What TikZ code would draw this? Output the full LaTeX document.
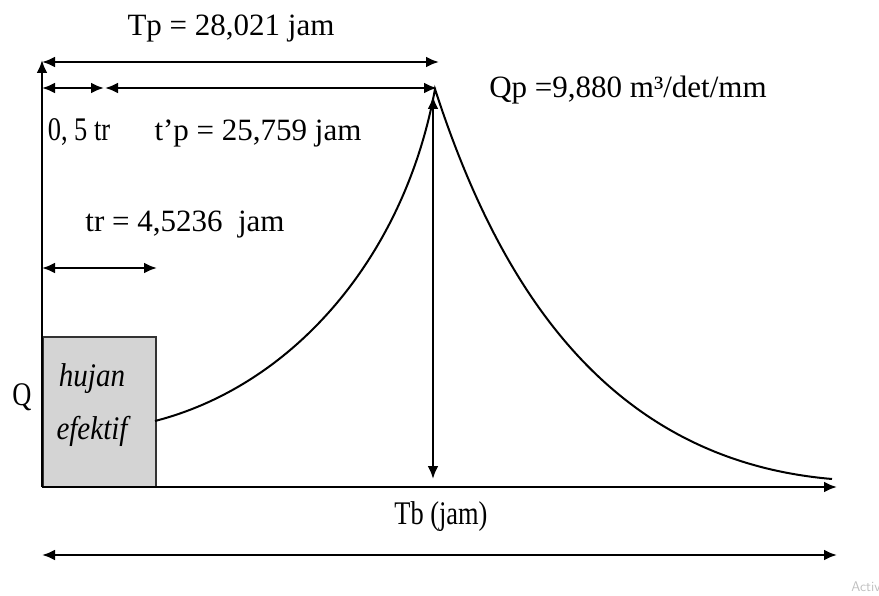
\documentclass[tikz,border=0pt]{standalone}
\usepackage{fontspec}
\setmainfont{Liberation Serif}
\newfontfamily\condfont[FakeStretch=0.8]{Liberation Serif}
\newfontfamily\icondfont[FakeStretch=0.88]{Liberation Serif Italic}
\usetikzlibrary{arrows.meta}
\begin{document}
\begin{tikzpicture}[x=1pt,y=-1pt,
  dim/.style={line width=2.8pt,{Latex[length=13pt,width=11pt]}-{Latex[length=13pt,width=11pt]}},
  axis/.style={line width=2.4pt,-{Latex[length=13pt,width=11pt]}},
  lbl/.style={inner sep=0pt,font=\fontsize{31}{34}\selectfont},
  clbl/.style={inner sep=0pt,font=\fontsize{33}{36}\selectfont\condfont},
  ilbl/.style={inner sep=0pt,font=\fontsize{33}{36}\selectfont\icondfont}]
\useasboundingbox (0,0) rectangle (879,596);
% key points
\coordinate (O) at (42,487);
\coordinate (Ytop) at (42,60);
\coordinate (Xend) at (837,487);
\coordinate (TpL) at (42,62);
\coordinate (TpR) at (439,62);
\coordinate (hL) at (42,88);
\coordinate (hR) at (104,88);
\coordinate (tpL) at (105,88);
\coordinate (tpR) at (437,88);
\coordinate (trL) at (42,268);
\coordinate (trR) at (157,268);
\coordinate (peak) at (435,89);
\coordinate (qpTop) at (433,96);
\coordinate (qpBot) at (433,479);
\coordinate (cStart) at (155,421);
\coordinate (cEnd) at (832,479);
\coordinate (TbL) at (42,555);
\coordinate (TbR) at (837,555);
% rain box
\node[draw=black!80,line width=2pt,fill=black!17,minimum width=113pt,minimum height=150pt,inner sep=0pt,anchor=north west] (box) at (42,336) {};
\node[ilbl] (hujan) at (92,379) {hujan};
\node[ilbl] (efektif) at (92,431) {efektif};
% axes
\draw[axis] (O) -- (Ytop);
\draw[axis] (O) -- (Xend);
% curve
\draw[line width=2pt] (cStart) .. controls (295,385) and (405,255) .. (peak)
  .. controls (500,290) and (610,460) .. (cEnd);
% dimension arrows
\draw[dim] (TpL) -- (TpR);
\draw[dim] (hL) -- (hR);
\draw[dim] (tpL) -- (tpR);
\draw[dim] (trL) -- (trR);
\draw[dim] (qpTop) -- (qpBot);
\draw[dim] (TbL) -- (TbR);
% labels
\node[lbl] (tpLab) at (231,28) {Tp = 28,021 jam};
\node[lbl] (qpLab) at (628,90) {Qp =9,880 m³/det/mm};
\node[clbl] (halfLab) at (79,132) {0, 5 tr};
\node[lbl] (tpsLab) at (258,133) {t’p = 25,759 jam};
\node[lbl] (trLab) at (185,225) {tr = 4,5236\ \ jam};
\node[clbl] (qLab) at (22,397) {Q};
\node[clbl] (tbLab) at (441,517) {Tb (jam)};
\node[inner sep=0pt,text=black!25,font=\fontsize{14}{16}\selectfont\sffamily] (wm) at (866,587) {Activ};
\end{tikzpicture}
\end{document}
